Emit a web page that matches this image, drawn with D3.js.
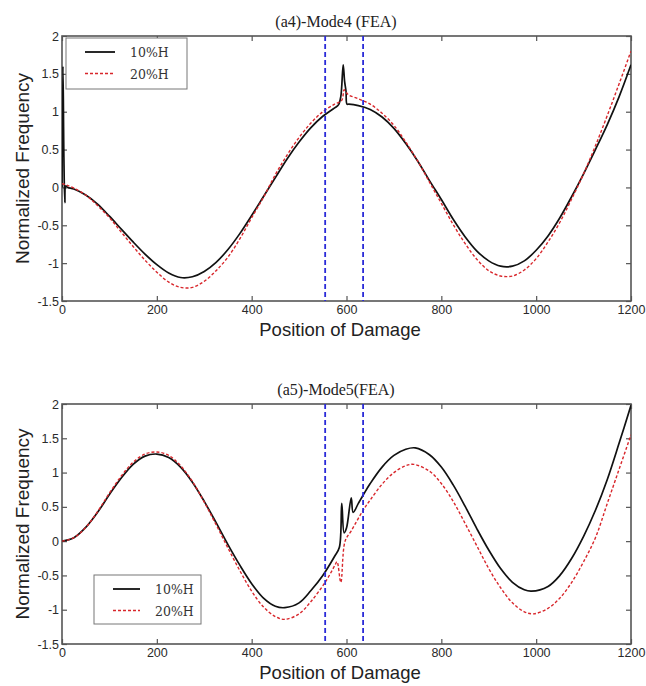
<!DOCTYPE html>
<html lang="en">
<head>
<meta charset="utf-8">
<title>Mode 4 / Mode 5 normalized frequency</title>
<script src="https://cdn.jsdelivr.net/npm/d3@7"></script>
<style>
  body { margin: 0; background: #fff; }
  .tick text { font-family: "Liberation Sans", Arial, sans-serif; font-size: 12.5px; fill: #2a2a2a; }
  .tick line { stroke: #555; stroke-width: 1.2; }
</style>
</head>
<body>
<script>
// axis ticks
var xTicks = [0, 200, 400, 600, 800, 1000, 1200];
var yTicks = [-1.5, -1, -0.5, 0, 0.5, 1, 1.5, 2];
var seriesNames = ["10%H", "20%H"];
// damaged zone (blue dashed lines)
var damageZone = [555, 635];

// Mode 4, 10%H  [position, normalized frequency]
var mode4Black = [[0,0],[2,1.6],[4,0.4],[6,-0.2],[8,0.02],[12,0],[25,-0.02],[50,-0.1],[75,-0.22],[100,-0.38],
  [125,-0.55],[150,-0.72],[175,-0.88],[200,-1.02],[225,-1.13],[250,-1.19],[275,-1.18],[300,-1.11],
  [325,-0.99],[350,-0.82],[375,-0.61],[400,-0.37],[425,-0.12],[450,0.13],[475,0.38],[500,0.6],
  [525,0.79],[550,0.94],[575,1.05],[583,1.09],[588,1.2],[593,1.62],[596,1.4],[599,1.27],[601,1.1],
  [605,1.1],[625,1.08],[650,1.03],[675,0.93],[700,0.78],[725,0.58],[750,0.35],[775,0.09],[800,-0.16],
  [825,-0.42],[850,-0.65],[875,-0.84],[900,-0.97],[925,-1.04],[950,-1.04],[975,-0.97],[1000,-0.83],
  [1025,-0.64],[1050,-0.4],[1075,-0.12],[1100,0.18],[1125,0.5],[1150,0.83],[1175,1.2],[1200,1.62]];

// Mode 4, 20%H
var mode4Red = [[0,0.05],[10,0.03],[25,-0.01],[50,-0.1],[75,-0.24],[100,-0.4],[125,-0.59],[150,-0.78],
  [175,-0.96],[200,-1.12],[225,-1.25],[250,-1.32],[275,-1.32],[300,-1.24],[325,-1.1],[350,-0.92],
  [375,-0.68],[400,-0.4],[425,-0.13],[450,0.17],[475,0.43],[500,0.66],[525,0.85],[550,1.0],
  [575,1.1],[590,1.15],[595,1.29],[600,1.25],[605,1.22],[625,1.17],[650,1.1],[675,0.98],[700,0.82],
  [725,0.6],[750,0.35],[775,0.07],[800,-0.21],[825,-0.49],[850,-0.74],[875,-0.95],[900,-1.1],
  [925,-1.17],[950,-1.17],[975,-1.09],[1000,-0.94],[1025,-0.72],[1050,-0.46],[1075,-0.15],
  [1100,0.18],[1125,0.55],[1150,0.95],[1175,1.37],[1200,1.8]];

// Mode 5, 10%H
var mode5Black = [[0,0],[25,0.05],[50,0.2],[75,0.42],[100,0.68],[125,0.92],[150,1.12],[175,1.24],
  [200,1.27],[225,1.22],[250,1.08],[275,0.86],[300,0.58],[325,0.27],[350,-0.05],[375,-0.35],
  [400,-0.62],[425,-0.83],[450,-0.95],[470,-0.97],[500,-0.9],[525,-0.72],[550,-0.5],[575,-0.22],
  [585,-0.09],[590,0.55],[595,0.12],[600,0.19],[610,0.63],[614,0.42],[625,0.55],[635,0.67],
  [650,0.84],[675,1.08],[700,1.25],[725,1.34],[745,1.36],[775,1.26],[800,1.08],[825,0.82],
  [850,0.51],[875,0.18],[900,-0.13],[925,-0.4],[950,-0.6],[975,-0.71],[990,-0.73],[1025,-0.66],
  [1050,-0.5],[1075,-0.25],[1100,0.07],[1125,0.45],[1150,0.9],[1175,1.43],[1200,1.98]];

// Mode 5, 20%H
var mode5Red = [[0,0],[25,0.05],[50,0.2],[75,0.43],[100,0.7],[125,0.95],[150,1.15],[175,1.27],
  [200,1.3],[225,1.25],[250,1.1],[275,0.87],[300,0.57],[325,0.24],[350,-0.1],[375,-0.43],
  [400,-0.73],[425,-0.96],[450,-1.1],[470,-1.14],[500,-1.06],[525,-0.88],[555,-0.6],[575,-0.36],
  [580,-0.3],[588,-0.6],[597,0.0],[610,0.15],[635,0.45],[650,0.6],[675,0.83],[700,1.0],
  [725,1.1],[742,1.12],[775,1.02],[800,0.84],[825,0.58],[850,0.26],[875,-0.07],[900,-0.4],
  [925,-0.68],[950,-0.9],[975,-1.03],[995,-1.06],[1025,-0.98],[1050,-0.83],[1075,-0.6],
  [1100,-0.3],[1125,0.05],[1150,0.55],[1175,1.05],[1200,1.55]];

var w = 646, h = 686;
var left = 62, right = 631;

var svg = d3.select("body").append("svg")
  .attr("width", w).attr("height", h);

var x = d3.scaleLinear().domain([0, 1200]).range([left, right]);

function drawPanel(opt) {
  var y = d3.scaleLinear().domain([-1.5, 2]).range([opt.bottom, opt.top]);
  var g = svg.append("g");
  var clipId = "clip" + opt.id;

  g.append("clipPath").attr("id", clipId).append("rect")
    .attr("x", left).attr("y", opt.top)
    .attr("width", right - left).attr("height", opt.bottom - opt.top);

  // title
  g.append("text")
    .attr("x", 336).attr("y", opt.top - 9)
    .attr("text-anchor", "middle")
    .style("font-family", "'Liberation Serif', 'Times New Roman', serif")
    .style("font-size", "16px").style("fill", "#222")
    .text(opt.title);

  // axes with inward ticks
  g.append("g").attr("transform", "translate(0," + opt.bottom + ")")
    .call(d3.axisBottom(x).tickValues(xTicks).tickSizeInner(-5).tickSizeOuter(0).tickPadding(4)
      .tickFormat(function (d) { return String(d); }));
  g.append("g").attr("transform", "translate(0," + opt.top + ")")
    .call(d3.axisTop(x).tickValues(xTicks).tickSizeInner(-5).tickSizeOuter(0).tickFormat(""));
  g.append("g").attr("transform", "translate(" + left + ",0)")
    .call(d3.axisLeft(y).tickValues(yTicks).tickSizeInner(-5).tickSizeOuter(0).tickPadding(3)
      .tickFormat(function (d) { return String(d); }));
  g.append("g").attr("transform", "translate(" + right + ",0)")
    .call(d3.axisRight(y).tickValues(yTicks).tickSizeInner(-5).tickSizeOuter(0).tickFormat(""));
  g.selectAll(".domain").remove();

  g.append("rect")
    .attr("x", left).attr("y", opt.top)
    .attr("width", right - left).attr("height", opt.bottom - opt.top)
    .attr("fill", "none").attr("stroke", "#555").attr("stroke-width", 1.6);

  // axis labels
  g.append("text")
    .attr("x", 340).attr("y", opt.bottom + 35)
    .attr("text-anchor", "middle")
    .style("font-family", "'Liberation Sans', Arial, sans-serif")
    .style("font-size", "18.5px").style("fill", "#222")
    .text("Position of Damage");
  g.append("text")
    .attr("transform", "translate(29," + ((opt.top + opt.bottom) / 2) + ") rotate(-90)")
    .attr("text-anchor", "middle")
    .style("font-family", "'Liberation Sans', Arial, sans-serif")
    .style("font-size", "19px").style("fill", "#222")
    .text("Normalized Frequency");

  var line = d3.line()
    .x(function (d) { return x(d[0]); })
    .y(function (d) { return y(d[1]); })
    .curve(d3.curveCatmullRom.alpha(0.5));

  var plot = g.append("g").attr("clip-path", "url(#" + clipId + ")");

  plot.append("path").datum(opt.black)
    .attr("d", line).attr("fill", "none")
    .attr("stroke", "#111").attr("stroke-width", 1.7);
  plot.append("path").datum(opt.red)
    .attr("d", line).attr("fill", "none")
    .attr("stroke", "#d8262b").attr("stroke-width", 1.4)
    .attr("stroke-dasharray", "3,2");

  plot.selectAll("line.zone").data(damageZone).enter().append("line")
    .attr("class", "zone")
    .attr("x1", function (d) { return x(d); }).attr("x2", function (d) { return x(d); })
    .attr("y1", opt.top).attr("y2", opt.bottom)
    .attr("stroke", "#2b2bd8").attr("stroke-width", 1.8)
    .attr("stroke-dasharray", "5,3");

  // legend
  var lg = g.append("g");
  lg.append("rect")
    .attr("x", opt.legend[0]).attr("y", opt.legend[1])
    .attr("width", opt.legend[2]).attr("height", opt.legend[3])
    .attr("fill", "#fff").attr("stroke", "#777").attr("stroke-width", 1);
  var styles = [{ c: "#111", dash: null, wd: 1.8 }, { c: "#d8262b", dash: "3,2", wd: 1.5 }];
  seriesNames.forEach(function (name, i) {
    var ry = opt.legend[1] + 14 + i * 21.5;
    lg.append("line")
      .attr("x1", opt.legend[0] + opt.lineOff).attr("x2", opt.legend[0] + opt.lineOff + opt.lineLen)
      .attr("y1", ry).attr("y2", ry)
      .attr("stroke", styles[i].c).attr("stroke-width", styles[i].wd)
      .attr("stroke-dasharray", styles[i].dash);
    lg.append("text")
      .attr("x", opt.legend[0] + opt.textOff).attr("y", ry + 5)
      .style("font-family", "'DejaVu Serif', 'Liberation Serif', serif")
      .style("font-size", "12.5px").style("fill", "#333")
      .text(name);
  });
}

drawPanel({ id: 4, title: "(a4)-Mode4 (FEA)", top: 36, bottom: 301,
  black: mode4Black, red: mode4Red,
  legend: [66, 38, 121, 51], lineOff: 19, lineLen: 30, textOff: 64 });

drawPanel({ id: 5, title: "(a5)-Mode5(FEA)", top: 404, bottom: 644,
  black: mode5Black, red: mode5Red,
  legend: [94, 575, 107, 49], lineOff: 19, lineLen: 27, textOff: 61 });
</script>
</body>
</html>
